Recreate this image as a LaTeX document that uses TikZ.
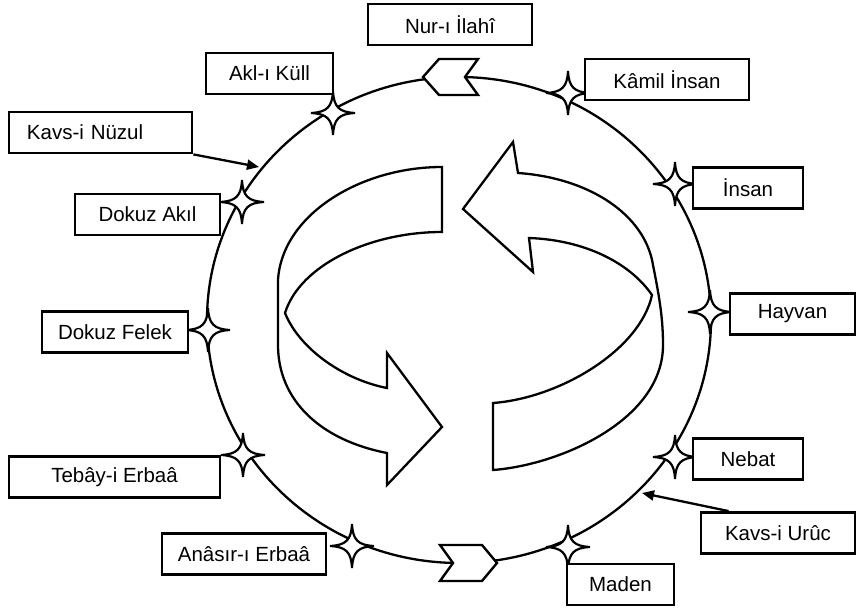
\documentclass[tikz,border=0pt]{standalone}
\usepackage{fontspec}
\setmainfont{Liberation Sans}
\usetikzlibrary{arrows.meta,calc}
\begin{document}
\begin{tikzpicture}[x=1pt,y=-1pt,
 lbl/.style={draw, line width=2.8pt, fill=white, minimum height=41pt, inner sep=0pt, font=\fontsize{20.5}{24}\selectfont},
 sparkle/.pic={\draw[line width=2.2pt, fill=white, line join=miter, miter limit=4]
   (0,-22) .. controls (0.8,-6) and (6,-0.8) .. (22,0)
   .. controls (6,0.8) and (0.8,6) .. (0,22)
   .. controls (-0.8,6) and (-6,0.8) .. (-22,0)
   .. controls (-6,-0.8) and (-0.8,-6) .. cycle;},
 ring/.style={line width=2.3pt},
 band/.style={line width=2.3pt, line join=miter},
 ptr/.style={line width=2.3pt, -{Triangle[length=12pt,width=10pt]}},
 chev/.style={draw, fill=white, line width=2.4pt, line join=miter}]
\useasboundingbox (0,0) rectangle (857,612);
% ring
\draw[ring] (459,320) ellipse [x radius=252, y radius=243];
% central left arrow
\draw[band] (442,167) -- (442,232)
  .. controls (370,232) and (300,265) .. (285,313)
  .. controls (300,350) and (345,380) .. (387,388)
  -- (387,353) -- (442,427) -- (387,485) -- (387,453)
  .. controls (320,440) and (278,400) .. (278,345)
  -- (278,280)
  .. controls (282,215) and (360,167) .. cycle;
% central right arrow
\draw[band] (518,173)
  .. controls (590,178) and (645,215) .. (653,265)
  .. controls (660,300) and (663,320) .. (663,345)
  .. controls (663,420) and (560,465) .. (493,470)
  -- (493,403)
  .. controls (560,398) and (640,350) .. (652,295)
  .. controls (630,263) and (585,240) .. (529,238)
  -- (533,272) -- (463,209) -- (513,142) -- cycle;
% chevrons on the ring
\path[chev] (423,77) -- (439,59) -- (478,59) -- (465,77) -- (478,95) -- (439,95) -- cycle;
\path[chev] (497,563) -- (482,545) -- (440,545) -- (453,563) -- (440,581) -- (482,581) -- cycle;
% stars
\coordinate (sakl) at (333,113);
\coordinate (sdakil) at (242,202);
\coordinate (skamil) at (568,93);
\coordinate (sinsan) at (675,184);
\coordinate (shayvan) at (710,312);
\coordinate (sfelek) at (208,330);
\coordinate (stebay) at (243,455);
\coordinate (sanasir) at (352,546);
\coordinate (smaden) at (568,547);
\coordinate (snebat) at (675,457);
\foreach \s in {sakl,sdakil,skamil,sinsan,shayvan,sfelek,stebay,sanasir,smaden,snebat}
  \pic at (\s) {sparkle};
% labels
\node[lbl, minimum width=164pt] (nur) at (450,24.5) {Nur-ı İlahî};
\node[lbl, minimum width=127pt] (akl) at (269.5,73.5) {Akl-ı Küll};
\node[lbl, minimum width=164pt] (kamil) at (667,79.5) {Kâmil İnsan};
\node[lbl, minimum width=183pt, text width=147pt, align=left, inner xsep=18pt] (nuzul) at (100.5,132.5) {Kavs-i Nüzul};
\node[lbl, minimum width=145pt] (dakil) at (147.5,214.5) {Dokuz Akıl};
\node[lbl, minimum width=110pt] (insan) at (748,188) {İnsan};
\node[lbl, minimum width=125pt] (hayvan) at (792.5,314) {Hayvan};
\node[lbl, minimum width=146pt] (felek) at (115,332) {Dokuz Felek};
\node[lbl, minimum width=211pt] (tebay) at (114.5,477) {Tebây-i Erbaâ};
\node[lbl, minimum width=164pt] (anasir) at (244,554) {Anâsır-ı Erbaâ};
\node[lbl, minimum width=110pt] (nebat) at (748,459) {Nebat};
\node[lbl, minimum width=154pt] (uruc) at (778,533) {Kavs-i Urûc};
\node[lbl, minimum width=107pt] (maden) at (620.5,584.5) {Maden};
% pointers
\coordinate (nuzulend) at (259,167);
\coordinate (urucend) at (642,493);
\draw[ptr] (nuzul.south east) -- (nuzulend);
\draw[ptr] ($(uruc.north west)+(29,0)$) -- (urucend);
\end{tikzpicture}
\end{document}
